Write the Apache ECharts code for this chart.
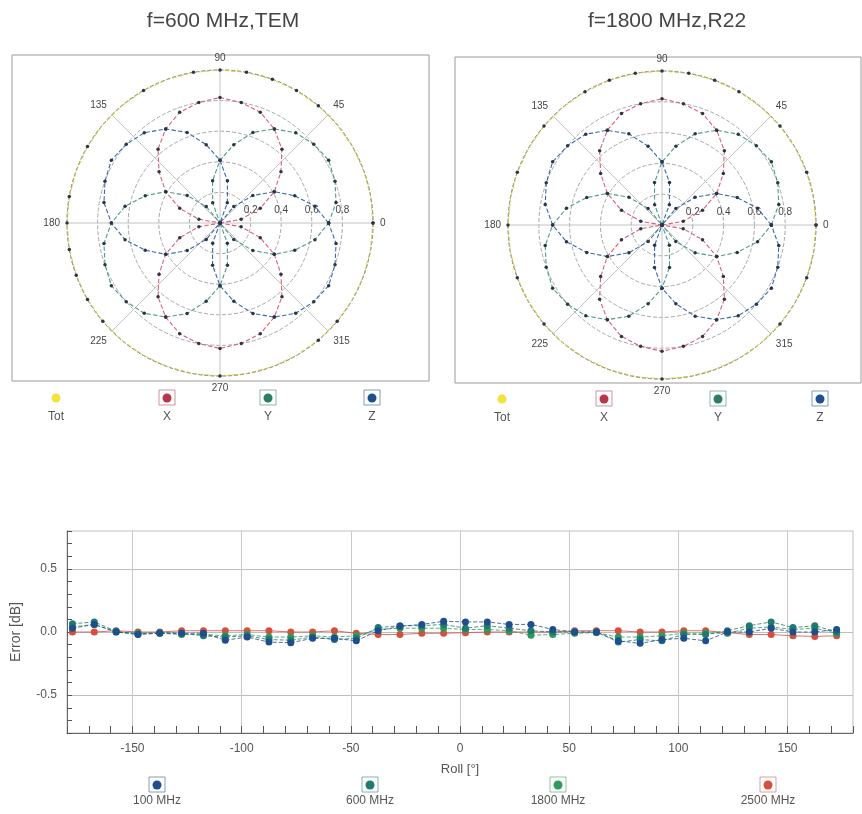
<!DOCTYPE html>
<html><head><meta charset="utf-8">
<script src="https://cdn.jsdelivr.net/npm/echarts@6/dist/echarts.min.js"></script>
<style>html,body{margin:0;padding:0;background:#fff}#c{width:862px;height:814px}</style>
</head><body><div id="c"></div>
<script>
// ---------- polar data (angle in degrees, field strength) ----------
const ANGLES = [0,10,20,30,40,50,60,70,80,90,100,110,120,130,140,150,160,170,180,190,200,210,220,230,240,250,260,270,280,290,300,310,320,330,340,350];
const TOT_600 = [1,1,1,1,1,1,1,1,1,1,1,1,1,1,1,1,1,1,1,1,1,1,1,1,1,1,1,1,1,1,1,1,1,1,1,1];
const X_600 = [0,.14,.28,.41,.52,.63,.71,.77,.80,.82,.80,.77,.71,.63,.52,.41,.28,.14,0,.14,.28,.41,.52,.63,.71,.77,.80,.82,.80,.77,.71,.63,.52,.41,.28,.14];
const Y_600 = [.71,.77,.80,.82,.80,.77,.71,.63,.52,.41,.28,.14,0,.14,.28,.41,.52,.63,.71,.77,.80,.82,.80,.77,.71,.63,.52,.41,.28,.14,0,.14,.28,.41,.52,.63];
const Z_600 = [.71,.63,.52,.41,.28,.14,0,.14,.28,.41,.52,.63,.71,.77,.80,.82,.80,.77,.71,.63,.52,.41,.28,.14,0,.14,.28,.41,.52,.63,.71,.77,.80,.82,.80,.77];
const TOT_1800 = [1,1,1,1,1,1,1,1,1,1,1,1,1,1,1,1,1,1,1,1,1,1,1,1,1,1,1,1,1,1,1,1,1,1,1,1];
const X_1800 = [0,.14,.28,.41,.52,.63,.71,.77,.80,.82,.80,.77,.71,.63,.52,.41,.28,.14,0,.14,.28,.41,.52,.63,.71,.77,.80,.82,.80,.77,.71,.63,.52,.41,.28,.14];
const Y_1800 = [.71,.77,.80,.82,.80,.77,.71,.63,.52,.41,.28,.14,0,.14,.28,.41,.52,.63,.71,.77,.80,.82,.80,.77,.71,.63,.52,.41,.28,.14,0,.14,.28,.41,.52,.63];
const Z_1800 = [.71,.63,.52,.41,.28,.14,0,.14,.28,.41,.52,.63,.71,.77,.80,.82,.80,.77,.71,.63,.52,.41,.28,.14,0,.14,.28,.41,.52,.63,.71,.77,.80,.82,.80,.77];
const POLAR_NAMES = ['Tot','X','Y','Z'];

// ---------- roll error data ----------
const ROLL = [-177.5,-167.5,-157.5,-147.5,-137.5,-127.5,-117.5,-107.5,-97.5,-87.5,-77.5,-67.5,-57.5,-47.5,-37.5,-27.5,-17.5,-7.5,2.5,12.5,22.5,32.5,42.5,52.5,62.5,72.5,82.5,92.5,102.5,112.5,122.5,132.5,142.5,152.5,162.5,172.5];
const ERR_100 = [0.03,0.06,0.00,-0.02,-0.01,-0.01,-0.01,-0.065,-0.04,-0.08,-0.085,-0.05,-0.05,-0.07,0.01,0.045,0.06,0.085,0.08,0.08,0.06,0.06,0.02,0.00,0.00,-0.07,-0.09,-0.06,-0.05,-0.07,0.00,0.00,0.03,0.00,0.00,0.02];
const ERR_600 = [0.065,0.08,0.005,-0.015,-0.005,-0.01,-0.03,-0.04,-0.03,-0.06,-0.065,-0.04,-0.06,-0.05,0.035,0.05,0.05,0.06,0.03,0.05,0.03,0.01,0.00,0.00,0.00,-0.08,-0.06,-0.07,-0.02,-0.02,0.01,0.05,0.08,0.035,0.05,0.00];
const ERR_1800 = [0.04,0.06,0.00,-0.01,-0.01,-0.02,-0.02,-0.03,-0.02,-0.04,-0.04,-0.03,-0.04,-0.03,0.02,0.03,0.03,0.03,0.02,0.02,0.01,-0.025,-0.02,-0.01,-0.005,-0.04,-0.04,-0.03,-0.01,-0.01,-0.01,0.03,0.04,0.02,0.03,-0.01];
const ERR_2500 = [0.00,0.00,0.01,0.00,0.00,0.01,0.01,0.01,0.01,0.01,0.00,0.00,0.01,-0.01,-0.02,-0.02,-0.01,-0.01,-0.005,0.00,0.00,0.00,0.00,0.01,0.01,0.01,0.00,0.00,0.01,0.01,-0.005,-0.02,-0.02,-0.03,-0.035,-0.03];
const FREQ_NAMES = ['100 MHz','600 MHz','1800 MHz','2500 MHz'];

// ---------- styling ----------
const FONT = 'Liberation Sans, Arial, sans-serif';
const POLAR_LINE = ['#d6cf3c','#d8607a','#4f9a86','#3a6aa6'];
const POLAR_LEG = ['#f2e23c','#b8364a','#2e7d5e','#1f4f8f'];
const FREQ_COL = ['#1f4e8c','#1f7a70','#2f9a5a','#d3503f'];

function polarData(vals){
  const d = ANGLES.map((a,i)=>[vals[i], a]);
  d.push([vals[0], 360]);
  return d;
}
function polarSeries(idx, sets){
  return sets.map((vals,k)=>({
    type:'line', coordinateSystem:'polar', polarIndex:idx, name:POLAR_NAMES[k]+idx,
    data: polarData(vals), symbol:'circle', symbolSize:3.5, smooth:false,
    itemStyle:{color:'#2c3448'},
    lineStyle:{color:POLAR_LINE[k], width:1.1, type:'dashed'},
    z: k===0?2:3, silent:true
  }));
}

const series = [
  ...polarSeries(0,[TOT_600,X_600,Y_600,Z_600]),
  ...polarSeries(1,[TOT_1800,X_1800,Y_1800,Z_1800]),
  ...[ERR_100,ERR_600,ERR_1800,ERR_2500].map((vals,k)=>({
    type:'line', name:FREQ_NAMES[k], xAxisIndex:0, yAxisIndex:0,
    data: ROLL.map((x,i)=>[x, vals[i]]),
    symbol:'circle', symbolSize:7, itemStyle:{color:FREQ_COL[k]},
    lineStyle:{color:FREQ_COL[k], width:1, type: k===3?'solid':'dashed', opacity:0.8},
    z: 5-k
  }))
];

function axisLabelAngle(v){ return v===360 ? '' : String(v); }

const graphic = [];
function legendItem(x, y, ty, color, label, boxed){
  const children = [];
  if (boxed) children.push({type:'rect', shape:{x:-8,y:-9,width:16,height:15}, style:{fill:'rgba(0,0,0,0)', stroke:color, lineWidth:1, opacity:0.55}});
  children.push({type:'circle', shape:{cx:0, cy:-1, r:4.5}, style:{fill:color}});
  children.push({type:'text', x:0, y:ty-y, style:{text:label, fill:'#555', font:'12px '+FONT, align:'center', verticalAlign:'middle'}});
  graphic.push({type:'group', x:x, y:y, children});
}
[56,167,268,372].forEach((x,k)=>legendItem(x,399,417,POLAR_LEG[k],POLAR_NAMES[k],k>0));
[502,604,718,820].forEach((x,k)=>legendItem(x,400,418,POLAR_LEG[k],POLAR_NAMES[k],k>0));
[157,370,558,768].forEach((x,k)=>legendItem(x,786,801,FREQ_COL[k],FREQ_NAMES[k],true));
// chart frames of the two polar plots
graphic.push({type:'rect', shape:{x:12,y:55,width:417,height:326}, style:{fill:'none', stroke:'#9a9a9a', lineWidth:1}, z:-1});
graphic.push({type:'rect', shape:{x:455,y:57,width:406,height:326}, style:{fill:'none', stroke:'#9a9a9a', lineWidth:1}, z:-1});

const mkAngle = i => ({
  polarIndex:i, type:'value', min:0, max:360, interval:45, startAngle:0, clockwise:false,
  axisLine:{show:true, lineStyle:{color:'#9a9a80', type:'dashed', width:1}},
  axisTick:{show:false},
  axisLabel:{margin:7, fontSize:10, color:'#444', fontFamily:FONT, formatter:axisLabelAngle},
  splitLine:{show:true, lineStyle:{color:'#c4c4c4', width:1}}
});
const mkRadius = i => ({
  polarIndex:i, type:'value', min:0, max:1, interval:0.2,
  axisLine:{show:false}, axisTick:{show:false},
  axisLabel:{fontSize:10, color:'#444', fontFamily:FONT, formatter:v=>(v>0.01&&v<0.99)?v.toFixed(1):''},
  splitLine:{show:true, lineStyle:{color:'#a8a8a8', type:'dashed', width:1}}
});

const option = {
  backgroundColor:'#fff',
  animation:false,
  textStyle:{fontFamily:FONT},
  title:[
    {text:'f=600 MHz,TEM', left:218, top:6, textAlign:'center', textStyle:{fontSize:21, fontWeight:'normal', color:'#444', fontFamily:FONT}},
    {text:'f=1800 MHz,R22', left:662, top:6, textAlign:'center', textStyle:{fontSize:21, fontWeight:'normal', color:'#444', fontFamily:FONT}}
  ],
  polar:[{center:[220,223], radius:153},{center:[662,225], radius:154}],
  angleAxis:[mkAngle(0), mkAngle(1)],
  radiusAxis:[mkRadius(0), mkRadius(1)],
  grid:{left:67, right:9, top:531, height:202, show:true, borderColor:'#c0c0c0', borderWidth:1},
  xAxis:{
    type:'value', min:-180, max:180, interval:10,
    name:'Roll [°]', nameLocation:'middle', nameGap:30,
    nameTextStyle:{fontSize:13, color:'#555', fontFamily:FONT},
    axisLine:{onZero:false, lineStyle:{color:'#666'}},
    axisTick:{inside:true, length:7, lineStyle:{color:'#555'}},
    axisLabel:{color:'#555', fontSize:12, margin:10, fontFamily:FONT, formatter:v=>(Math.round(v)%50===0)?String(Math.round(v)):''},
    splitLine:{show:true, lineStyle:{color:['rgba(0,0,0,0)','rgba(0,0,0,0)','rgba(0,0,0,0)','#c8c8c8','rgba(0,0,0,0)']}}
  },
  yAxis:{
    type:'value', min:-0.8, max:0.8, interval:0.1,
    name:'Error [dB]', nameLocation:'middle', nameGap:44,
    nameTextStyle:{fontSize:14, color:'#555', fontFamily:FONT},
    axisLine:{show:true, onZero:false, lineStyle:{color:'#666'}},
    axisTick:{show:true, inside:true, length:5, lineStyle:{color:'#555'}},
    axisLabel:{color:'#555', fontSize:12, margin:10, fontFamily:FONT, formatter:v=>{
      const a=Math.abs(v); return (Math.abs(a-0.5)<1e-6||a<1e-6)?(Math.round(v*10)/10).toFixed(1):'';}},
    splitLine:{show:true, lineStyle:{color:['rgba(0,0,0,0)','rgba(0,0,0,0)','rgba(0,0,0,0)','#bdbdbd','rgba(0,0,0,0)']}}
  },
  graphic,
  series
};
const chart = echarts.init(document.getElementById('c'));
chart.setOption(option);
</script></body></html>
